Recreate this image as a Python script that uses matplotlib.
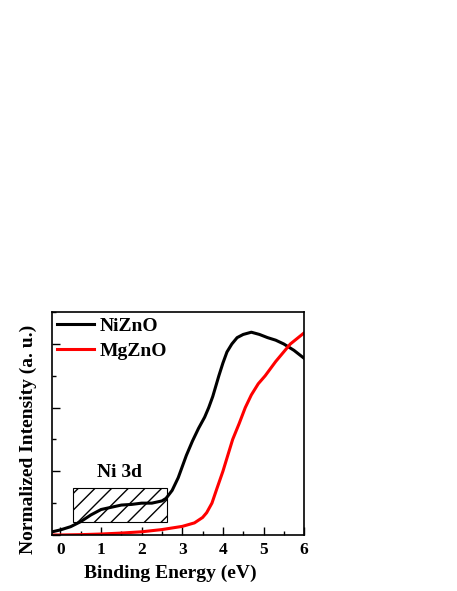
import matplotlib
matplotlib.use('Agg')
import matplotlib.pyplot as plt
from matplotlib.patches import Rectangle
from matplotlib.ticker import MultipleLocator

plt.rcParams['font.family'] = 'Liberation Serif'
plt.rcParams['font.weight'] = 'bold'

# binding energy (eV) and normalized intensity
ni_x = [-0.2, 0.0, 0.25, 0.5, 0.75, 1.0, 1.25, 1.5, 1.75, 2.0, 2.25, 2.5, 2.6, 2.75,
        2.9, 3.1, 3.25, 3.4, 3.55, 3.65, 3.75, 3.9, 4.0, 4.1, 4.22, 4.35, 4.5, 4.7,
        4.9, 5.1, 5.3, 5.5, 5.75, 6.0]
ni_y = [0.1, 0.16, 0.26, 0.42, 0.63, 0.8, 0.87, 0.94, 0.96, 1.0, 1.0, 1.07, 1.15, 1.4,
        1.8, 2.5, 2.95, 3.35, 3.7, 4.0, 4.35, 5.0, 5.4, 5.75, 6.0, 6.2, 6.3, 6.37,
        6.3, 6.2, 6.12, 6.0, 5.8, 5.55]

mg_x = [-0.2, 0.0, 0.5, 1.0, 1.5, 2.0, 2.5, 3.0, 3.3, 3.5, 3.6, 3.73, 3.85, 4.0,
        4.12, 4.24, 4.4, 4.55, 4.7, 4.87, 5.04, 5.3, 5.66, 6.0]
mg_y = [0.0, 0.0, 0.01, 0.03, 0.06, 0.1, 0.17, 0.27, 0.38, 0.55, 0.7, 1.0, 1.45, 2.0,
        2.5, 3.0, 3.5, 4.0, 4.4, 4.75, 5.0, 5.45, 6.0, 6.35]

fig = plt.figure(figsize=(4.57, 5.91), dpi=100)
ax = fig.add_axes([0.1145, 0.0948, 0.551, 0.377])

ax.plot(ni_x, ni_y, color='black', lw=2.2, label='NiZnO')
ax.plot(mg_x, mg_y, color='red', lw=2.2, label='MgZnO')

# Ni 3d region
ax.add_patch(Rectangle((0.3, 0.42), 2.32, 1.07, fill=False, hatch='//',
                       edgecolor='black', lw=0.8))
ax.text(1.46, 1.95, 'Ni 3d', ha='center', va='center', fontsize=14, fontweight='bold')

ax.set_xlim(-0.2, 6)
ax.set_ylim(0, 7)
ax.xaxis.set_major_locator(MultipleLocator(1))
ax.xaxis.set_minor_locator(MultipleLocator(0.5))
ax.yaxis.set_major_locator(MultipleLocator(2))
ax.yaxis.set_minor_locator(MultipleLocator(1))
ax.tick_params(which='both', direction='in', width=1)
ax.tick_params(which='major', length=5.5)
ax.tick_params(which='minor', length=3)
ax.tick_params(axis='x', labelsize=12.5, pad=5)
ax.set_yticklabels([])
for s in ax.spines.values():
    s.set_linewidth(1.2)

ax.set_xlabel('Binding Energy (eV)', fontsize=14, fontweight='bold')
ax.xaxis.set_label_coords(0.468, -0.135)
ax.set_ylabel('Normalized Intensity (a. u.)', fontsize=14, fontweight='bold')
ax.yaxis.set_label_coords(-0.06, 0.43)

ax.legend(loc='upper left', frameon=False, fontsize=14, handlelength=1.9,
          handletextpad=0.3, borderaxespad=0.05, borderpad=0.2, labelspacing=0.4)

plt.savefig('out.png', dpi=100)
plt.close()
